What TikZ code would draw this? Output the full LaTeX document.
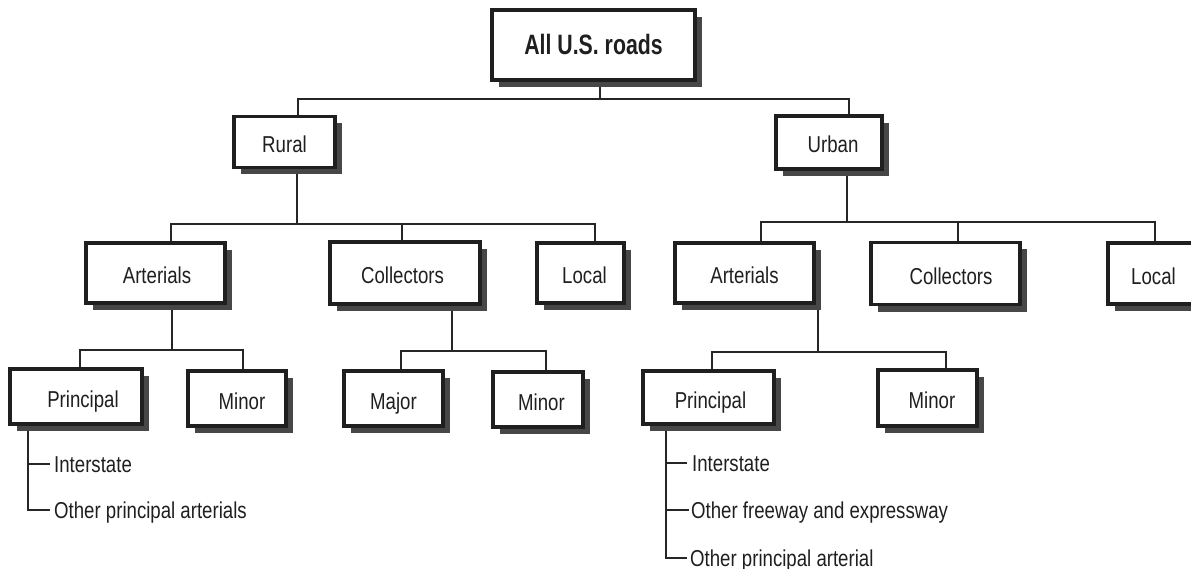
\documentclass[tikz,border=0pt]{standalone}
\usepackage{fontspec}
\newfontfamily\cond[FakeStretch=0.81]{Liberation Sans}
\newfontfamily\bcond[FakeStretch=0.76]{Liberation Sans}
\usetikzlibrary{shadows,backgrounds}
\tikzset{
  box/.style={draw=black!88, line width=3.2pt, fill=white, inner sep=0pt,
    font=\cond\fontsize{23}{27}\selectfont, text=black!88,
    text height=21pt, text depth=0pt,
    drop shadow={shadow xshift=7pt, shadow yshift=-7pt, fill=black!72, opacity=1}},
  rootbox/.style={box, font=\bcond\bfseries\fontsize{28}{32}\selectfont, text height=20pt},
  conn/.style={draw=black!85, line width=1.8pt},
  leaf/.style={inner sep=0pt, anchor=west, font=\cond\fontsize{23}{27}\selectfont,
    text=black!88, text height=16.5pt, text depth=0pt},
}
\newcommand\pushR[2]{\hspace*{#1}#2}
\begin{document}
\begin{tikzpicture}[x=1pt,y=-1pt]
\useasboundingbox (0,0) rectangle (1191,569);
\clip (0,0) rectangle (1191,569);

% boxes
\node[rootbox, minimum width=203pt, minimum height=70pt] (root) at (593.5,45) {All U.S. roads};
\node[box, minimum width=101pt, minimum height=51pt] (rural) at (284.5,142) {Rural};
\node[box, minimum width=106pt, minimum height=53pt] (urban) at (829,142.5) {\pushR{8pt}{Urban}};

\node[box, minimum width=139pt, minimum height=60pt] (rart) at (155.5,273) {\pushR{3pt}{Arterials}};
\node[box, minimum width=150pt, minimum height=62pt] (rcol) at (405,273) {Collectors\hspace*{5pt}};
\node[box, minimum width=87pt, minimum height=60pt] (rloc) at (580.5,273) {\pushR{8pt}{Local}};
\node[box, minimum width=139pt, minimum height=60pt] (uart) at (744.5,273) {Arterials};
\node[box, minimum width=149pt, minimum height=62pt] (ucol) at (945.5,273.5) {\pushR{11pt}{Collectors}};
\node[box, minimum width=88pt, minimum height=61pt] (uloc) at (1152,273.5) {\pushR{3pt}{Local}};

\node[box, minimum width=132pt, minimum height=55pt] (rpri) at (76,396.5) {\pushR{14pt}{Principal}};
\node[box, minimum width=98pt, minimum height=55pt] (rmin) at (237,398.5) {\pushR{10pt}{Minor}};
\node[box, minimum width=99pt, minimum height=55pt] (rmaj) at (393.5,398.5) {Major};
\node[box, minimum width=90pt, minimum height=55pt] (rcmin) at (538,399.5) {\pushR{7pt}{Minor}};
\node[box, minimum width=131pt, minimum height=53pt] (upri) at (708.5,397.5) {\pushR{4pt}{Principal}};
\node[box, minimum width=99pt, minimum height=56pt] (umin) at (927.5,398) {\pushR{9pt}{Minor}};

% leaf texts
\node[leaf] (ri1) at (54,464) {Interstate};
\node[leaf] (ri2) at (54,510) {Other principal arterials};
\node[leaf] (ui1) at (692,463) {Interstate};
\node[leaf] (ui2) at (691,510) {Other freeway and expressway};
\node[leaf] (ui3) at (690,558) {Other principal arterial};

% junction coordinates
\coordinate (b0) at (600,99);
\coordinate (b1) at (297,224);
\coordinate (b2) at (847,222);
\coordinate (b3) at (172,350);
\coordinate (b4) at (452,351);
\coordinate (b5) at (818,352);
\coordinate (t1) at (28,510);
\coordinate (t2) at (666,558);

\begin{pgfonlayer}{background}
\draw[conn] (b0 |- root.south) -- (b0);
\draw[conn] ([xshift=13.5pt]rural.north) |- (b0) -| ([xshift=20pt]urban.north);

\draw[conn] (b1 |- rural.south) -- (b1);
\draw[conn] ([xshift=15.5pt]rart.north) |- (b1) -| ([xshift=14.5pt]rloc.north);
\draw[conn] ([xshift=-3pt]rcol.north) -- ([xshift=-3pt]rcol.north |- b1);

\draw[conn] (b2 |- urban.south) -- (b2);
\draw[conn] ([xshift=16.5pt]uart.north) |- (b2) -| ([xshift=3pt]uloc.north);
\draw[conn] ([xshift=12.5pt]ucol.north) -- ([xshift=12.5pt]ucol.north |- b2);

\draw[conn] (b3 |- rart.south) -- (b3);
\draw[conn] ([xshift=4pt]rpri.north) |- (b3) -| ([xshift=6pt]rmin.north);

\draw[conn] (b4 |- rcol.south) -- (b4);
\draw[conn] ([xshift=7.5pt]rmaj.north) |- (b4) -| ([xshift=8pt]rcmin.north);

\draw[conn] (b5 |- uart.south) -- (b5);
\draw[conn] ([xshift=3.5pt]upri.north) |- (b5) -| ([xshift=18.5pt]umin.north);

\draw[conn] (t1 |- rpri.south) -- (t1) -- ([xshift=-4pt]ri2.west);
\draw[conn] (t1 |- ri1.west) -- ([xshift=-4pt]ri1.west);

\draw[conn] (t2 |- upri.south) -- (t2) -- ([xshift=-3pt]ui3.west);
\draw[conn] (t2 |- ui1.west) -- ([xshift=-5pt]ui1.west);
\draw[conn] (t2 |- ui2.west) -- ([xshift=-2pt]ui2.west);
\end{pgfonlayer}
\end{tikzpicture}
\end{document}
